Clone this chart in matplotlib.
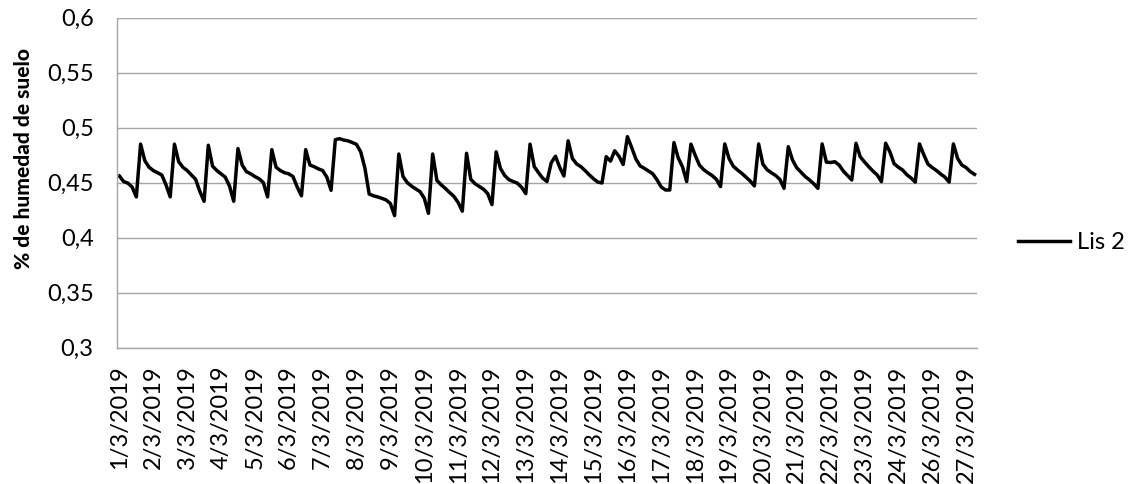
import matplotlib
matplotlib.use("Agg")
import matplotlib.pyplot as plt
import numpy as np

# ---- data ----
date_labels = ["1/3/2019", "2/3/2019", "3/3/2019", "4/3/2019", "5/3/2019", "6/3/2019",
               "7/3/2019", "8/3/2019", "9/3/2019", "10/3/2019", "11/3/2019", "12/3/2019",
               "13/3/2019", "14/3/2019", "15/3/2019", "16/3/2019", "17/3/2019", "18/3/2019",
               "19/3/2019", "20/3/2019", "21/3/2019", "22/3/2019", "23/3/2019", "24/3/2019",
               "26/3/2019", "27/3/2019"]
points_per_label = 8

lis2 = [
    0.456, 0.451, 0.4495, 0.446, 0.437, 0.485, 0.470, 0.464, 0.461, 0.459,
    0.457, 0.448, 0.437, 0.485, 0.469, 0.464, 0.461, 0.457, 0.453, 0.442,
    0.433, 0.484, 0.465, 0.461, 0.458, 0.455, 0.447, 0.433, 0.481, 0.466,
    0.460, 0.458, 0.4555, 0.4535, 0.450, 0.437, 0.480, 0.464, 0.461, 0.459,
    0.458, 0.4555, 0.446, 0.438, 0.480, 0.466, 0.4645, 0.4625, 0.461, 0.455,
    0.443, 0.489, 0.490, 0.4887, 0.488, 0.4865, 0.4848, 0.478, 0.463, 0.4396,
    0.438, 0.437, 0.4357, 0.4342, 0.431, 0.420, 0.476, 0.4555, 0.450, 0.4468,
    0.4443, 0.4418, 0.436, 0.422, 0.476, 0.452, 0.448, 0.4447, 0.441, 0.4375,
    0.432, 0.424, 0.4767, 0.453, 0.449, 0.4465, 0.444, 0.440, 0.430, 0.478,
    0.463, 0.4565, 0.4527, 0.451, 0.4495, 0.4458, 0.440, 0.485, 0.4645, 0.459,
    0.454, 0.451, 0.468, 0.474, 0.464, 0.456, 0.488, 0.472, 0.467, 0.4645,
    0.461, 0.457, 0.4535, 0.4505, 0.4497, 0.4736, 0.4695, 0.479, 0.474, 0.4665,
    0.4918, 0.482, 0.4715, 0.4652, 0.463, 0.4605, 0.458, 0.4525, 0.446, 0.4433,
    0.4433, 0.4864, 0.4725, 0.4645, 0.451, 0.485, 0.475, 0.466, 0.4618, 0.459,
    0.4565, 0.453, 0.4464, 0.4852, 0.472, 0.465, 0.4615, 0.4585, 0.455, 0.4515,
    0.447, 0.4852, 0.4668, 0.4617, 0.459, 0.4565, 0.453, 0.4448, 0.4827, 0.4706,
    0.4635, 0.4595, 0.4555, 0.4525, 0.449, 0.4448, 0.4852, 0.4686, 0.4683, 0.4690,
    0.466, 0.4605, 0.4565, 0.4524, 0.4858, 0.4735, 0.4688, 0.4645, 0.4605, 0.457,
    0.4509, 0.4858, 0.478, 0.4672, 0.464, 0.4615, 0.4572, 0.4542, 0.4505, 0.4852,
    0.4755, 0.4668, 0.4637, 0.461, 0.4578, 0.455, 0.4505, 0.4852, 0.472, 0.466,
    0.4637, 0.460, 0.4575,
]

y_ticks = [0.3, 0.35, 0.4, 0.45, 0.5, 0.55, 0.6]
y_tick_labels = ["0,3", "0,35", "0,4", "0,45", "0,5", "0,55", "0,6"]
series_name = "Lis 2"
y_title = "% de humedad de suelo"

# ---- figure ----
plt.rcParams['font.family'] = ['Lato', 'DejaVu Sans']
fig = plt.figure(figsize=(11.30, 4.84), dpi=100)
ax = fig.add_axes([0.1038, 0.282, 0.7605, 0.6814])

x = np.arange(len(lis2))
line, = ax.plot(x, lis2, color='black', linewidth=2.5, solid_joinstyle='round',
                label=series_name)

ax.set_xlim(-0.5, len(lis2) - 0.5)
ax.set_ylim(0.3, 0.6)
ax.set_yticks(y_ticks)
ax.set_yticklabels(y_tick_labels)
ax.set_xticks(np.arange(len(date_labels)) * points_per_label)
ax.set_xticklabels(date_labels, rotation=90)

grid_color = '#a6a6a6'
ax.yaxis.grid(True, color=grid_color, linewidth=1.0)
ax.set_axisbelow(True)
for s in ['top', 'right']:
    ax.spines[s].set_visible(False)
for s in ['left', 'bottom']:
    ax.spines[s].set_color(grid_color)
    ax.spines[s].set_linewidth(1.0)

ax.tick_params(axis='y', length=0, pad=17, labelsize=17)
ax.tick_params(axis='x', length=0, pad=13, labelsize=17)

fig.text(0.0205, 0.6715, y_title, rotation=90, ha='center', va='center',
         fontsize=15, fontweight='black')

fig.legend(handles=[line], loc='center left', bbox_to_anchor=(0.901, 0.4985),
           frameon=False, fontsize=17, handlelength=2.2, handletextpad=0.3,
           borderpad=0, borderaxespad=0)

fig.savefig("out.png", dpi=100)
